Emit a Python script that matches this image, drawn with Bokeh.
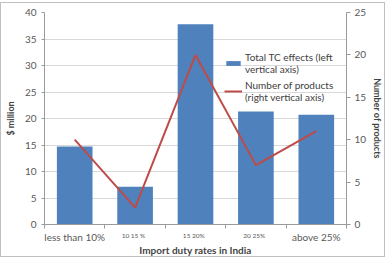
from bokeh.plotting import figure
from bokeh.models import Range1d, LinearAxis, FixedTicker, Legend, LegendItem
from bokeh.embed import file_html
from bokeh.resources import INLINE

# Import duty bands and the two series
categories = ["less than 10%", "10   15 %", "15   20%", "20   25%", "above 25%"]
tc_effects = [14.7, 7.1, 37.8, 21.3, 20.7]        # $ million, left axis
num_products = [10, 2, 20, 7, 11]                 # count, right axis
left_ticks = [0, 5, 10, 15, 20, 25, 30, 35, 40]
right_ticks = [0, 5, 10, 15, 20, 25]

FONT = "Lato"
BLUE = "#4F81BD"
RED = "#BE4B48"
GREY_TXT = "#595959"
AXIS_GREY = "#9a9a9a"

xs = [i + 0.5 for i in range(len(categories))]
n = len(categories)

p = figure(width=385, height=255, output_backend="svg", toolbar_location=None,
           x_range=Range1d(0, n), y_range=Range1d(0, 40),
           min_border_left=8, min_border_right=0, min_border_top=9,
           min_border_bottom=0)
p.styles = {"border": "1px solid #c0c0c0", "margin-top": "2px"}
p.outline_line_color = None
p.background_fill_color = "white"
p.border_fill_color = "white"

p.extra_y_ranges = {"count": Range1d(0, 25)}

bars = p.vbar(x=xs, top=tc_effects, width=0.59, fill_color=BLUE, line_color=None)
line = p.line(x=xs, y=num_products, y_range_name="count", line_color=RED, line_width=2)

# left axis
ya = p.yaxis[0]
ya.ticker = FixedTicker(ticks=left_ticks)
ya.axis_label = "$ million"
ya.axis_label_text_font = FONT
ya.axis_label_text_font_style = "bold"
ya.axis_label_text_font_size = "9px"
ya.axis_label_standoff = 6
ya.major_label_text_font = FONT
ya.major_label_text_font_size = "10px"
ya.major_label_text_color = GREY_TXT
ya.major_label_standoff = 5
ya.axis_line_color = AXIS_GREY
ya.major_tick_line_color = AXIS_GREY
ya.major_tick_out = 3
ya.major_tick_in = 0
ya.minor_tick_line_color = None

# right axis
ra = LinearAxis(y_range_name="count", ticker=FixedTicker(ticks=right_ticks))
ra.axis_label = "Number of products"
ra.axis_label_text_font = FONT
ra.axis_label_text_font_style = "bold"
ra.axis_label_text_font_size = "9px"
ra.axis_label_standoff = 3
ra.major_label_text_font = FONT
ra.major_label_text_font_size = "10px"
ra.major_label_text_color = GREY_TXT
ra.major_label_standoff = 4
ra.axis_line_color = AXIS_GREY
ra.major_tick_line_color = AXIS_GREY
ra.major_tick_out = 4
ra.major_tick_in = 0
ra.minor_tick_line_color = None
p.add_layout(ra, "right")

# bottom axis: ticks at the band boundaries, the three middle bands in small type
xa = p.xaxis[0]
xa.ticker = FixedTicker(ticks=xs, minor_ticks=list(range(n + 1)))
xa.major_label_overrides = {x: (c if 0 < i < n - 1 else "")
                            for i, (x, c) in enumerate(zip(xs, categories))}
xa.major_label_text_font = FONT
xa.major_label_text_font_size = "6.5px"
xa.major_label_text_color = GREY_TXT
xa.major_label_standoff = 1
xa.major_tick_line_color = None
xa.minor_tick_line_color = AXIS_GREY
xa.minor_tick_out = 4
xa.minor_tick_in = 0
xa.axis_line_color = AXIS_GREY

# second bottom axis: the two outer bands in regular type, plus the title
xb = LinearAxis(ticker=FixedTicker(ticks=xs, minor_ticks=[]))
xb.major_label_overrides = {x: (c if i in (0, n - 1) else "")
                            for i, (x, c) in enumerate(zip(xs, categories))}
xb.major_label_text_font = FONT
xb.major_label_text_font_size = "10px"
xb.major_label_text_color = GREY_TXT
xb.major_label_standoff = -11
xb.major_tick_line_color = None
xb.major_tick_out = 0
xb.major_tick_in = 0
xb.minor_tick_line_color = None
xb.axis_line_color = None
xb.axis_label = "Import duty rates in India"
xb.axis_label_text_font = FONT
xb.axis_label_text_font_style = "bold"
xb.axis_label_text_font_size = "10px"
xb.axis_label_standoff = -2
p.add_layout(xb, "below")

p.xgrid.grid_line_color = None
p.ygrid.ticker = FixedTicker(ticks=left_ticks)
p.ygrid.grid_line_color = "#d9d9d9"
p.ygrid.grid_line_width = 1

legend = Legend(items=[
    LegendItem(label="Total TC effects (left\nvertical axis)", renderers=[bars]),
    LegendItem(label="Number of products\n(right vertical axis)", renderers=[line]),
], location=(180, 121))
legend.label_text_font = FONT
legend.label_text_font_size = "10px"
legend.label_text_color = "#404040"
legend.background_fill_alpha = 0
legend.border_line_color = None
legend.glyph_width = 18
legend.glyph_height = 6
legend.spacing = 4
legend.padding = 0
legend.label_standoff = 3
p.add_layout(legend, "center")

open("out.html", "w").write(file_html(p, INLINE))
